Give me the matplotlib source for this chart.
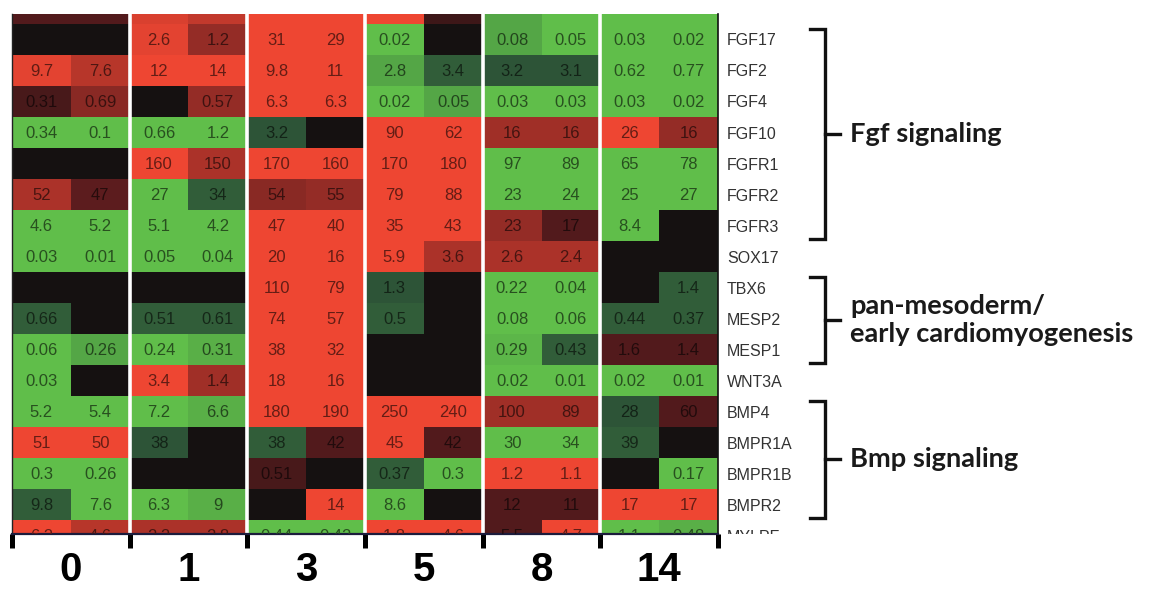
import numpy as np
import matplotlib
matplotlib.use("Agg")
import matplotlib.pyplot as plt
from matplotlib.colors import LinearSegmentedColormap
from matplotlib.transforms import blended_transform_factory
from matplotlib.lines import Line2D

# time points (days) and genes; first and last rows are only partly shown
days = ["0", "1", "3", "5", "8", "14"]
genes = ["", "FGF17", "FGF2", "FGF4", "FGF10", "FGFR1", "FGFR2", "FGFR3", "SOX17",
         "TBX6", "MESP2", "MESP1", "WNT3A", "BMP4", "BMPR1A", "BMPR1B", "BMPR2", "MYLPF"]

# expression values printed in the cells (two replicates per day), "" = no value
values = [
    ["", "", "", "", "", "", "", "", "", "", "", ""],
    ["", "", "2.6", "1.2", "31", "29", "0.02", "", "0.08", "0.05", "0.03", "0.02"],
    ["9.7", "7.6", "12", "14", "9.8", "11", "2.8", "3.4", "3.2", "3.1", "0.62", "0.77"],
    ["0.31", "0.69", "", "0.57", "6.3", "6.3", "0.02", "0.05", "0.03", "0.03", "0.03", "0.02"],
    ["0.34", "0.1", "0.66", "1.2", "3.2", "", "90", "62", "16", "16", "26", "16"],
    ["", "", "160", "150", "170", "160", "170", "180", "97", "89", "65", "78"],
    ["52", "47", "27", "34", "54", "55", "79", "88", "23", "24", "25", "27"],
    ["4.6", "5.2", "5.1", "4.2", "47", "40", "35", "43", "23", "17", "8.4", ""],
    ["0.03", "0.01", "0.05", "0.04", "20", "16", "5.9", "3.6", "2.6", "2.4", "", ""],
    ["", "", "", "", "110", "79", "1.3", "", "0.22", "0.04", "", "1.4"],
    ["0.66", "", "0.51", "0.61", "74", "57", "0.5", "", "0.08", "0.06", "0.44", "0.37"],
    ["0.06", "0.26", "0.24", "0.31", "38", "32", "", "", "0.29", "0.43", "1.6", "1.4"],
    ["0.03", "", "3.4", "1.4", "18", "16", "", "", "0.02", "0.01", "0.02", "0.01"],
    ["5.2", "5.4", "7.2", "6.6", "180", "190", "250", "240", "100", "89", "28", "60"],
    ["51", "50", "38", "", "38", "42", "45", "42", "30", "34", "39", ""],
    ["0.3", "0.26", "", "", "0.51", "", "0.37", "0.3", "1.2", "1.1", "", "0.17"],
    ["9.8", "7.6", "6.3", "9", "", "14", "8.6", "", "12", "11", "17", "17"],
    ["6.2", "4.6", "2.2", "2.8", "0.44", "0.42", "1.8", "4.6", "5.5", "4.7", "1.1", "0.48"],
]

# colour level of each cell: -1 green ... 0 black ... +1 red
levels = [
    [0.3, 0.3, 0.9, 0.8, 1, 1, 1, 0.2, -0.85, -1, -1, -1],
    [0, 0, 0.95, 0.6, 1, 1, -1, 0, -0.85, -1, -1, -1],
    [0.95, 0.75, 1, 1, 1, 1, -0.85, -0.4, -0.35, -0.35, -1, -1],
    [0.25, 0.55, 0, 0.6, 1, 1, -1, -0.85, -1, -1, -1, -1],
    [-1, -1, -1, -1, -0.35, 0, 1, 1, 0.65, 0.65, 1, 0.6],
    [0, 0, 1, 0.7, 1, 1, 1, 1, -1, -1, -1, -1],
    [0.7, 0.35, -1, -0.4, 0.55, 0.6, 1, 1, -1, -1, -1, -1],
    [-1, -1, -1, -1, 1, 1, 1, 1, 0.6, 0.3, -1, 0],
    [-1, -1, -1, -1, 1, 1, 1, 0.7, 0.7, 0.7, 0, 0],
    [0, 0, 0, 0, 1, 1, -0.35, 0, -1, -1, 0, -0.4],
    [-0.4, 0, -0.4, -0.4, 1, 1, -0.4, 0, -1, -1, -0.4, -0.4],
    [-1, -0.85, -1, -0.9, 1, 1, 0, 0, -0.95, -0.4, 0.3, 0.3],
    [-1, 0, 1, 0.65, 1, 1, 0, 0, -1, -1, -1, -1],
    [-1, -1, -1, -0.9, 1, 1, 1, 1, 0.65, 0.65, -0.35, 0.3],
    [1, 1, -0.35, 0, -0.4, 0.3, 1, 0.3, -1, -1, -0.4, 0],
    [-1, -1, 0, 0, 0.25, 0, -0.4, -1, 1, 1, 0, -1],
    [-0.4, -1, -1, -0.9, 0, 1, -1, 0, 0.3, 0.3, 1, 1],
    [1, 0.75, 0.7, 0.7, -1, -1, 1, 1, 0.3, 1, -1, -0.9],
]

# gene groups: (first gene, last gene, text)
groups = [("FGF17", "FGFR3", "Fgf signaling"),
          ("TBX6", "MESP1", "pan-mesoderm/\nearly cardiomyogenesis"),
          ("BMP4", "BMPR2", "Bmp signaling")]

W, H = 1152, 589
fig = plt.figure(figsize=(W / 100, H / 100), dpi=100)
ax_l, ax_r, ax_t, ax_b = 12, 718, 14, 534
pos = [ax_l / W, 1 - ax_b / H, (ax_r - ax_l) / W, (ax_b - ax_t) / H]
ax = fig.add_axes(pos)

cmap = LinearSegmentedColormap.from_list(
    "gkr", [(0, "#60be4a"), (0.32, "#2e5638"), (0.5, "#141111"),
            (0.68, "#5e1c1e"), (1, "#ee4632")])
lev = np.array(levels)
nrow, ncol = lev.shape
ax.pcolormesh(np.arange(ncol + 1) - 0.5, np.arange(nrow + 1) - 0.5, lev,
              cmap=cmap, vmin=-1, vmax=1)

for i in range(nrow):
    for j in range(ncol):
        if values[i][j]:
            c = np.array(cmap((lev[i, j] + 1) / 2)[:3]) * 0.42
            ax.text(j, i + 0.03, values[i][j], ha="center", va="center",
                    fontsize=12, family="Liberation Sans", color=c, clip_on=True)

# white gaps between days
for b in np.arange(1.5, ncol - 1, 2):
    ax.axvline(b, color="white", lw=2.6)

ax.set_xlim(-0.5, ncol - 0.5)
ax.set_ylim(nrow - 0.5 - 0.55, 0.5 - 0.32)

ax.set_xticks(np.arange(-0.5, ncol, 2))
ax.set_xticklabels([])
ax.tick_params(axis="x", length=10, width=3.6, color="black", direction="out")
ax.set_yticks([])
ax.spines["top"].set_visible(False)
ax.spines["bottom"].set_color("#1c1c3c")
ax.spines["bottom"].set_linewidth(1.6)
ax.spines["left"].set_color("#222222")
ax.spines["left"].set_linewidth(1.0)
ax.spines["right"].set_color("#111111")
ax.spines["right"].set_linewidth(1.2)

xt = blended_transform_factory(ax.transData, ax.transAxes)
for k, d in enumerate(days):
    ax.text(2 * k + 0.5, -(581 - ax_b) / (ax_b - ax_t), d, transform=xt,
            ha="center", va="baseline", fontsize=29, fontweight="bold",
            family="Liberation Sans")

# gene names to the right, clipped like the cells
lab = fig.add_axes([ax_r / W, pos[1], 86 / W, pos[3]])
lab.set_xlim(0, 86)
lab.set_ylim(ax.get_ylim())
lab.axis("off")
for i, g in enumerate(genes):
    lab.text(9, i + 0.05, g, ha="left", va="center", fontsize=11.5,
             family="Liberation Sans", color="#333333", clip_on=True)

# group brackets
bt = blended_transform_factory(fig.transFigure, ax.transData)
x0, x1, x2, xt0 = 810 / W, 825 / W, 840 / W, 850 / W
for g0, g1, txt in groups:
    top = genes.index(g0) - 0.34
    bot = genes.index(g1) + 0.43
    mid = (top + bot) / 2
    fig.add_artist(Line2D([x0, x1, x1, x0], [top, top, bot, bot], transform=bt,
                          color="#111111", lw=2.4, solid_joinstyle="miter"))
    fig.add_artist(Line2D([x1, x2], [mid, mid], transform=bt,
                          color="#111111", lw=2.4))
    fig.text(xt0, mid, txt, transform=bt, ha="left", va="center",
             fontsize=19.6, fontweight="bold", family="Lato", color="#1a1a1a",
             linespacing=1.22)

fig.savefig("out.png", dpi=100)
